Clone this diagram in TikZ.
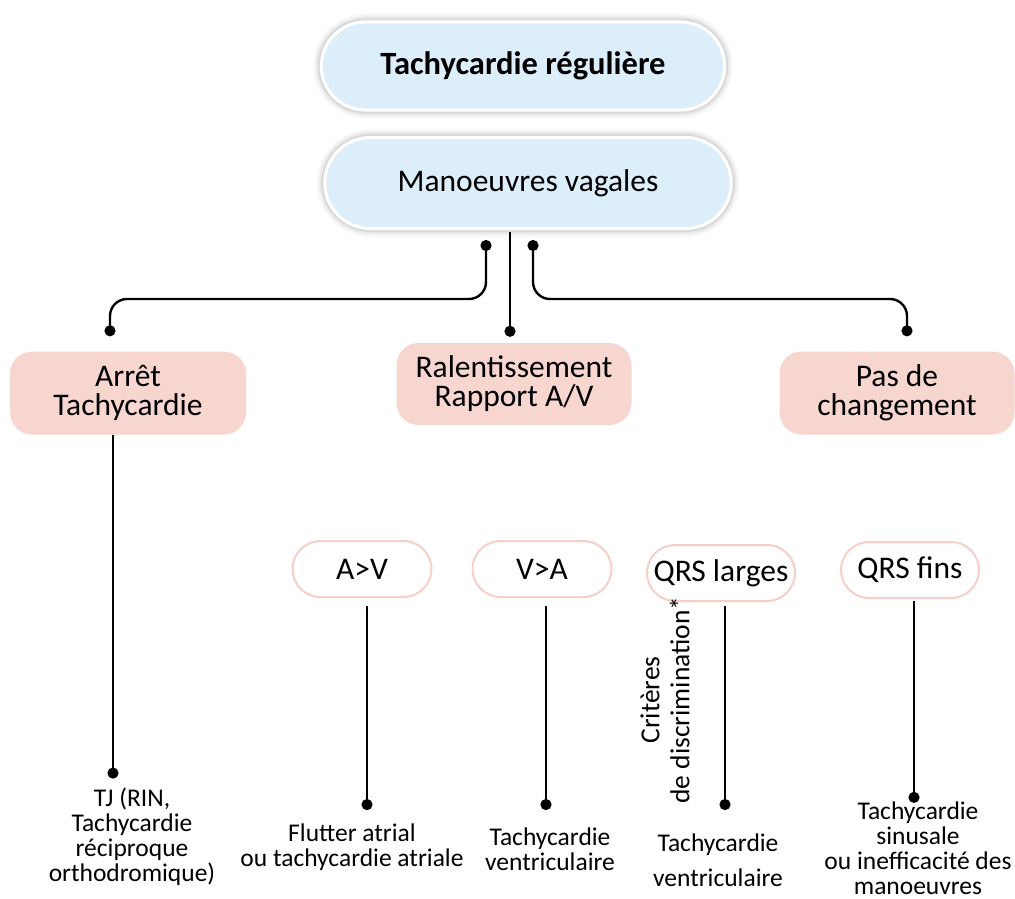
\documentclass[tikz,border=0pt]{standalone}
\usepackage{fontspec}
\setmainfont{Carlito}
\usetikzlibrary{arrows.meta,calc,shapes.misc}

\definecolor{bluefill}{HTML}{DDEEFB}
\definecolor{pinkfill}{HTML}{F7D6D0}
\definecolor{pinkline}{HTML}{F6CFC6}

\tikzset{
  x=1pt, y=-1pt,
  glow/.style={
    preaction={draw=black, opacity=0.035, line width=16pt},
    preaction={draw=black, opacity=0.05, line width=11pt},
    preaction={draw=black, opacity=0.07, line width=7pt}},
  topbox/.style={rounded rectangle, fill=bluefill, draw=white, line width=3pt,
    glow, font=\fontsize{31.5}{34}\selectfont, text=black},
  outcome/.style={rectangle, rounded corners=22pt, fill=pinkfill, align=center,
    font=\fontsize{31.5}{29}\selectfont, minimum width=236pt, minimum height=83pt},
  pill/.style={rounded rectangle, draw=pinkline, line width=2pt, fill=white,
    font=\fontsize{31.5}{34}\selectfont, minimum height=56pt, inner xsep=2pt},
  result/.style={align=center, font=\fontsize{25.5}{25}\selectfont},
  conn/.style={line width=2.4pt, rounded corners=17pt},
  dots/.style={conn, {Circle[length=11pt]}-{Circle[length=11pt]}},
  enddot/.style={conn, -{Circle[length=11pt]}},
}

\begin{document}
\begin{tikzpicture}
\useasboundingbox (0,0) rectangle (1015,899);

% top of the decision tree
\node[topbox, minimum width=410pt, minimum height=88pt] (top) at (523,66)
  {\fontsize{32.5}{34}\selectfont\bfseries Tachycardie régulière};
\node[topbox, minimum width=413pt, minimum height=91pt] (mv) at (528,183)
  {Manoeuvres vagales};

% three outcomes of the vagal manoeuvres
\node[outcome] (arret) at (128,393) {Arrêt\\Tachycardie};
\node[outcome, minimum width=235pt, minimum height=82pt] (ral) at (514,384)
  {Ralentissement\\Rapport A/V};
\node[outcome, minimum width=235pt] (pas) at (897,393) {Pas de\\changement};

\draw[dots, shorten <=10pt, shorten >=15pt]
  ($(mv.south)+(-42,0)$) -- ++(0,69) -| ($(arret.north)+(-18,0)$);
\draw[enddot, shorten <=2pt, shorten >=6pt]
  ($(mv.south)+(-18,0)$) -- ($(ral.north)+(-4,0)$);
\draw[dots, shorten <=10pt, shorten >=15pt]
  ($(mv.south)+(5,0)$) -- ++(0,69) -| ($(pas.north)+(10,0)$);

% second level
\node[pill, minimum width=143pt] (av) at (362,569) {A>V};
\node[pill, minimum width=143pt] (va) at (542,569) {V>A};
\node[pill, minimum width=152pt] (large) at (721,573) {QRS larges};
\node[pill, minimum width=142pt] (fins) at (910,570) {QRS fins};

% final diagnoses
\node[result] (tj) at (132,837)
  {TJ (RIN,\\Tachycardie\\réciproque\\orthodromique)};
\node[result] (flutter) at (352,847) {Flutter atrial\\ou tachycardie atriale};
\node[result] (tvva) at (550,849) {Tachycardie\\ventriculaire};
\node[result] (tvlarge) at (718,860) {Tachycardie\\[10pt]ventriculaire};
\node[result, inner ysep=0.5pt] (sinus) at (918,848)
  {Tachycardie\\sinusale\\ou inefficacité des\\manoeuvres};

\node[rotate=90, align=center, font=\fontsize{27.5}{30}\selectfont] (crit) at (665,700)
  {Critères\\de discrimination*};

% vertical branches down to the diagnoses
\coordinate (sArret) at ($(arret.south)+(-15,0)$);
\coordinate (sAV) at ($(av.south)+(5,0)$);
\coordinate (sVA) at ($(va.south)+(4,0)$);
\coordinate (sLarge) at ($(large.south)+(4,0)$);
\coordinate (sFins) at ($(fins.south)+(4,0)$);

\draw[enddot, shorten >=6pt] (sArret) -- (sArret |- tj.north);
\draw[enddot, shorten <=8pt, shorten >=10pt] (sAV) -- (sAV |- flutter.north);
\draw[enddot, shorten <=8pt, shorten >=14pt] (sVA) -- (sVA |- tvva.north);
\draw[enddot, shorten <=4pt, shorten >=20pt] (sLarge) -- (sLarge |- tvlarge.north);
\draw[enddot, shorten <=2pt, shorten >=-2pt] (sFins) -- (sFins |- sinus.north);
\end{tikzpicture}
\end{document}
